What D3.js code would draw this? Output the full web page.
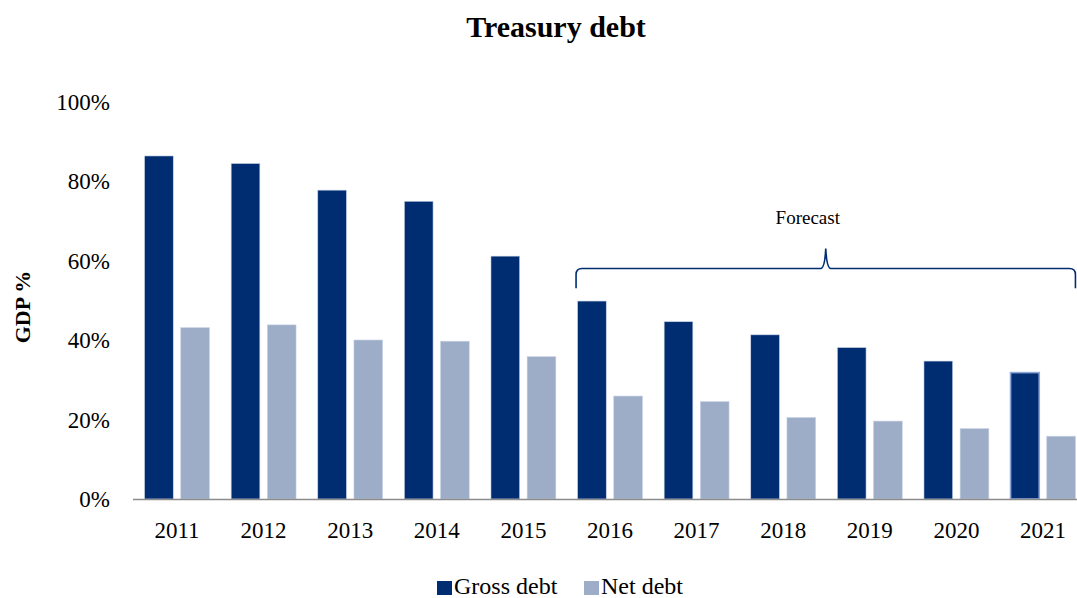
<!DOCTYPE html>
<html>
<head>
    <title>Treasury debt</title>
    <script src="https://cdnjs.cloudflare.com/ajax/libs/d3/7.8.5/d3.min.js"></script>
    <style>
        html, body {
            margin: 0;
            padding: 0;
            background: white;
            font-family: 'Liberation Serif', 'Times New Roman', serif;
        }
    </style>
</head>
<body>
    <div id="chart"></div>
    <script>
        const years = ["2011", "2012", "2013", "2014", "2015", "2016", "2017", "2018", "2019", "2020", "2021"];
        const grossDebt = [86.3, 84.4, 77.7, 74.9, 61.1, 49.8, 44.6, 41.3, 38.1, 34.7, 31.8];
        const netDebt = [43.1, 43.8, 40.0, 39.7, 35.8, 25.9, 24.5, 20.5, 19.6, 17.7, 15.8];
        const seriesNames = ["Gross debt", "Net debt"];
        const yTicks = [0, 20, 40, 60, 80, 100];
        const forecastYears = ["2016", "2021"];

        const width = 1077, height = 598;
        const colors = { "Gross debt": "#002d72", "Net debt": "#9dadc8" };

        const svg = d3.select("#chart").append("svg")
            .attr("width", width)
            .attr("height", height);

        const x = d3.scaleBand().domain(years).range([133.7, 1086.3]);
        const x1 = d3.scaleBand().domain(seriesNames).range([0, x.bandwidth()])
            .paddingInner(0.207).paddingOuter(0.3);
        const y = d3.scaleLinear().domain([0, 100]).range([499, 101.5]);

        // title
        svg.append("text")
            .attr("x", 556).attr("y", 37)
            .attr("text-anchor", "middle")
            .attr("font-size", "30px").attr("font-weight", "bold")
            .text("Treasury debt");

        // y axis title
        svg.append("text")
            .attr("transform", "translate(30,307) rotate(-90)")
            .attr("text-anchor", "middle")
            .attr("font-size", "22px").attr("font-weight", "bold")
            .text("GDP %");

        // y tick labels
        svg.selectAll(".ytick")
            .data(yTicks)
            .enter().append("text")
            .attr("class", "ytick")
            .attr("x", 110)
            .attr("y", d => y(d) + 8)
            .attr("text-anchor", "end")
            .attr("font-size", "23px")
            .text(d => d + "%");

        // bars
        const rows = years.map((yr, i) => ({ year: yr, values: [grossDebt[i], netDebt[i]] }));
        const groups = svg.selectAll(".year")
            .data(rows)
            .enter().append("g")
            .attr("class", "year")
            .attr("transform", d => `translate(${x(d.year)},0)`);

        groups.selectAll("rect")
            .data(d => seriesNames.map((s, j) => ({ series: s, value: d.values[j], year: d.year })))
            .enter().append("rect")
            .attr("x", d => x1(d.series))
            .attr("width", x1.bandwidth())
            .attr("y", d => y(d.value))
            .attr("height", d => y(0) - y(d.value))
            .attr("fill", d => colors[d.series])
            .attr("stroke", d => (d.year === "2021" && d.series === "Gross debt") ? "#8ea6d6" : "#c8d2e4")
            .attr("stroke-width", d => (d.year === "2021" && d.series === "Gross debt") ? 1.6 : 0.6);

        // baseline
        svg.append("line")
            .attr("x1", 133).attr("x2", width)
            .attr("y1", y(0) + 0.5).attr("y2", y(0) + 0.5)
            .attr("stroke", "#8c8c8c").attr("stroke-width", 1.5);

        // x labels
        svg.selectAll(".xlab")
            .data(years)
            .enter().append("text")
            .attr("class", "xlab")
            .attr("x", d => x(d) + x.bandwidth() / 2)
            .attr("y", 538)
            .attr("text-anchor", "middle")
            .attr("font-size", "23px")
            .text(d => d);

        // forecast brace
        const bx0 = x(forecastYears[0]) + x1("Gross debt") - 1.5;
        const bx1 = x(forecastYears[1]) + x1("Net debt") + x1.bandwidth();
        const bm = (bx0 + bx1) / 2;
        const by = y(58), byEnd = y(53), byPeak = y(63);
        const r = 6;
        const brace = d3.path();
        brace.moveTo(bx0, byEnd);
        brace.lineTo(bx0, by + r);
        brace.quadraticCurveTo(bx0, by, bx0 + r, by);
        brace.lineTo(bm - 5, by);
        brace.quadraticCurveTo(bm - 1, by, bm, byPeak);
        brace.quadraticCurveTo(bm + 1, by, bm + 5, by);
        brace.lineTo(bx1 - r, by);
        brace.quadraticCurveTo(bx1, by, bx1, by + r);
        brace.lineTo(bx1, byEnd);
        svg.append("path")
            .attr("d", brace.toString())
            .attr("fill", "none")
            .attr("stroke", "#002d72")
            .attr("stroke-width", 1.6);

        svg.append("text")
            .attr("x", bm - 18).attr("y", y(69.3))
            .attr("text-anchor", "middle")
            .attr("font-size", "19px")
            .text("Forecast");

        // legend
        const legendItems = [
            { name: "Gross debt", x: 437 },
            { name: "Net debt", x: 584 }
        ];
        const legend = svg.selectAll(".legend")
            .data(legendItems)
            .enter().append("g")
            .attr("class", "legend")
            .attr("transform", d => `translate(${d.x},581)`);
        legend.append("rect")
            .attr("width", 15).attr("height", 14)
            .attr("fill", d => colors[d.name]);
        legend.append("text")
            .attr("x", 17).attr("y", 13)
            .attr("font-size", "24px")
            .text(d => d.name);
    </script>
</body>
</html>
